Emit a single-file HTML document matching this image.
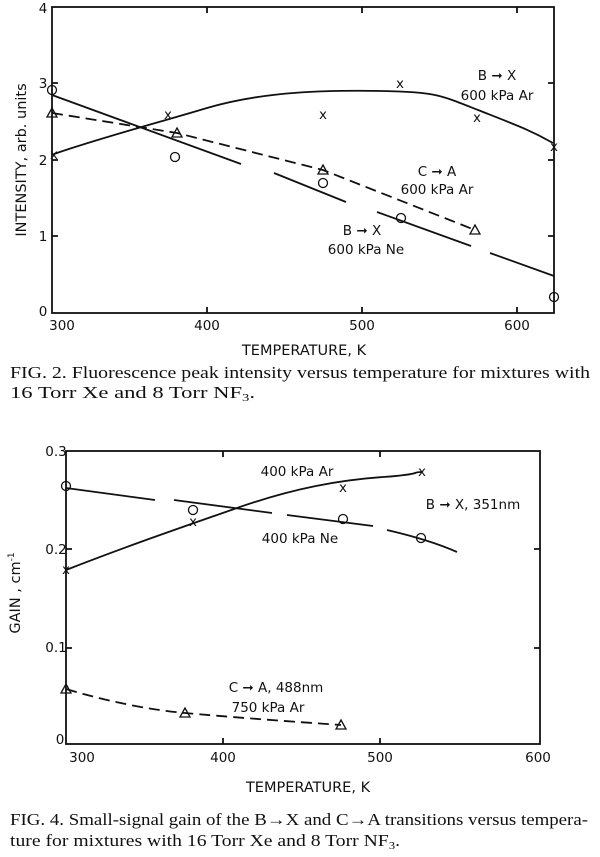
<!DOCTYPE html>
<html><head><style>
body{margin:0;background:#fff;}
svg{display:block}
.l{font-family:"DejaVu Sans","Liberation Sans",sans-serif;font-size:13.5px;fill:#111}
.c{font-family:"Liberation Serif",serif;font-size:17px;fill:#111}
</style></head><body>
<svg width="600" height="857" viewBox="0 0 600 857" xmlns="http://www.w3.org/2000/svg">
<g stroke="#111" stroke-width="1.8" fill="none">
<rect x="52" y="7" width="502" height="306"/>
<path d="M207 313v-6M362 313v-6M517 313v-6M207 7v6M362 7v6M517 7v6M52 236h6M52 160h6M52 83h6M554 236h-6M554 160h-6M554 83h-6"/>
<path d="M54 154 C100 138,150 125,207 108 S330 90,383 91 S440 95,478 110 S530 130,553 143"/>
<path d="M52 95L241 164M274 173L346 202M377 212L471 246M490 253L554 276"/>
<path d="M52 113L177 133L323 170L475 230" stroke-dasharray="11,6"/>
<g stroke-width="1.3">
<circle cx="52" cy="90" r="4.5"/><circle cx="175" cy="157" r="4.5"/><circle cx="323" cy="183" r="4.5"/><circle cx="401" cy="218" r="4.5"/><circle cx="554" cy="297" r="4.5"/>
<path d="M52 108l5 9h-10zM177 128l5 9h-10zM323 165l5 9h-10zM475 225l5 9h-10z"/>
</g>
</g>
<g class="l" font-size="12">
<text x="54" y="159" text-anchor="middle">x</text><text x="168" y="119" text-anchor="middle">x</text><text x="323" y="119" text-anchor="middle">x</text><text x="400" y="88" text-anchor="middle">x</text><text x="477" y="122" text-anchor="middle">x</text><text x="554" y="151" text-anchor="middle">x</text>
</g>
<g class="l">
<text x="43" y="13" text-anchor="middle">4</text><text x="43" y="88" text-anchor="middle">3</text><text x="43" y="165" text-anchor="middle">2</text><text x="43" y="241" text-anchor="middle">1</text><text x="43" y="316" text-anchor="middle">0</text>
<text x="62" y="330" text-anchor="middle">300</text><text x="207" y="330" text-anchor="middle">400</text><text x="362" y="330" text-anchor="middle">500</text><text x="517" y="330" text-anchor="middle">600</text>
<text x="304" y="355" text-anchor="middle" font-size="14.5">TEMPERATURE, K</text>
<text transform="translate(26,160) rotate(-90)" text-anchor="middle" font-size="14.5">INTENSITY, arb. units</text>
<text x="497" y="80" text-anchor="middle">B ➞ X</text><text x="497" y="100" text-anchor="middle">600 kPa Ar</text>
<text x="437" y="176" text-anchor="middle">C ➞ A</text><text x="437" y="194" text-anchor="middle">600 kPa Ar</text>
<text x="362" y="235" text-anchor="middle">B ➞ X</text><text x="366" y="254" text-anchor="middle">600 kPa Ne</text>
</g>
<text class="c" x="10" y="378" textLength="580" lengthAdjust="spacingAndGlyphs">FIG. 2. Fluorescence peak intensity versus temperature for mixtures with</text>
<text class="c" x="10" y="398" textLength="245" lengthAdjust="spacingAndGlyphs">16 Torr Xe and 8 Torr NF<tspan font-size="11" dy="3">3</tspan><tspan dy="-3">.</tspan></text>

<g stroke="#111" stroke-width="1.8" fill="none">
<rect x="66" y="451" width="474" height="293"/>
<path d="M223 744v-6M380 744v-6M223 451v6M380 451v6M66 648h6M66 549h6M540 648h-6M540 549h-6"/>
<path d="M66 570 C130 545,180 528,237 508 S340 480,383 477 S410 472,422 472"/>
<path d="M66 488L155 500M174 500L272 513M287 515L373 526M387 530Q430 540,457 552"/>
<path d="M66 689 Q130 708,185 713 T341 725" stroke-dasharray="11,6"/>
<g stroke-width="1.3">
<circle cx="66" cy="486" r="4.5"/><circle cx="193" cy="510" r="4.5"/><circle cx="343" cy="519" r="4.5"/><circle cx="421" cy="538" r="4.5"/>
<path d="M66 684l5 9h-10zM185 708l5 9h-10zM341 720l5 9h-10z"/>
</g>
</g>
<g class="l" font-size="12">
<text x="66" y="574" text-anchor="middle">x</text><text x="193" y="526" text-anchor="middle">x</text><text x="343" y="492" text-anchor="middle">x</text><text x="422" y="476" text-anchor="middle">x</text>
</g>
<g class="l">
<text x="56" y="456" text-anchor="middle">0.3</text><text x="56" y="554" text-anchor="middle">0.2</text><text x="56" y="652" text-anchor="middle">0.1</text><text x="60" y="744" text-anchor="middle">0</text>
<text x="82" y="762" text-anchor="middle">300</text><text x="223" y="762" text-anchor="middle">400</text><text x="380" y="762" text-anchor="middle">500</text><text x="538" y="762" text-anchor="middle">600</text>
<text x="308" y="792" text-anchor="middle" font-size="14.5">TEMPERATURE, K</text>
<text transform="translate(20,593) rotate(-90)" text-anchor="middle" font-size="14.5">GAIN , cm<tspan font-size="9" dy="-6">-1</tspan></text>
<text x="297" y="476" text-anchor="middle">400 kPa Ar</text>
<text x="473" y="509" text-anchor="middle">B ➞ X, 351nm</text>
<text x="300" y="543" text-anchor="middle">400 kPa Ne</text>
<text x="276" y="692" text-anchor="middle">C ➞ A, 488nm</text>
<text x="268" y="712" text-anchor="middle">750 kPa Ar</text>
</g>
<text class="c" x="10" y="825" textLength="578" lengthAdjust="spacingAndGlyphs">FIG. 4. Small-signal gain of the B→X and C→A transitions versus tempera-</text>
<text class="c" x="10" y="846" textLength="390" lengthAdjust="spacingAndGlyphs">ture for mixtures with 16 Torr Xe and 8 Torr NF<tspan font-size="11" dy="3">3</tspan><tspan dy="-3">.</tspan></text>
</svg>
</body></html>
